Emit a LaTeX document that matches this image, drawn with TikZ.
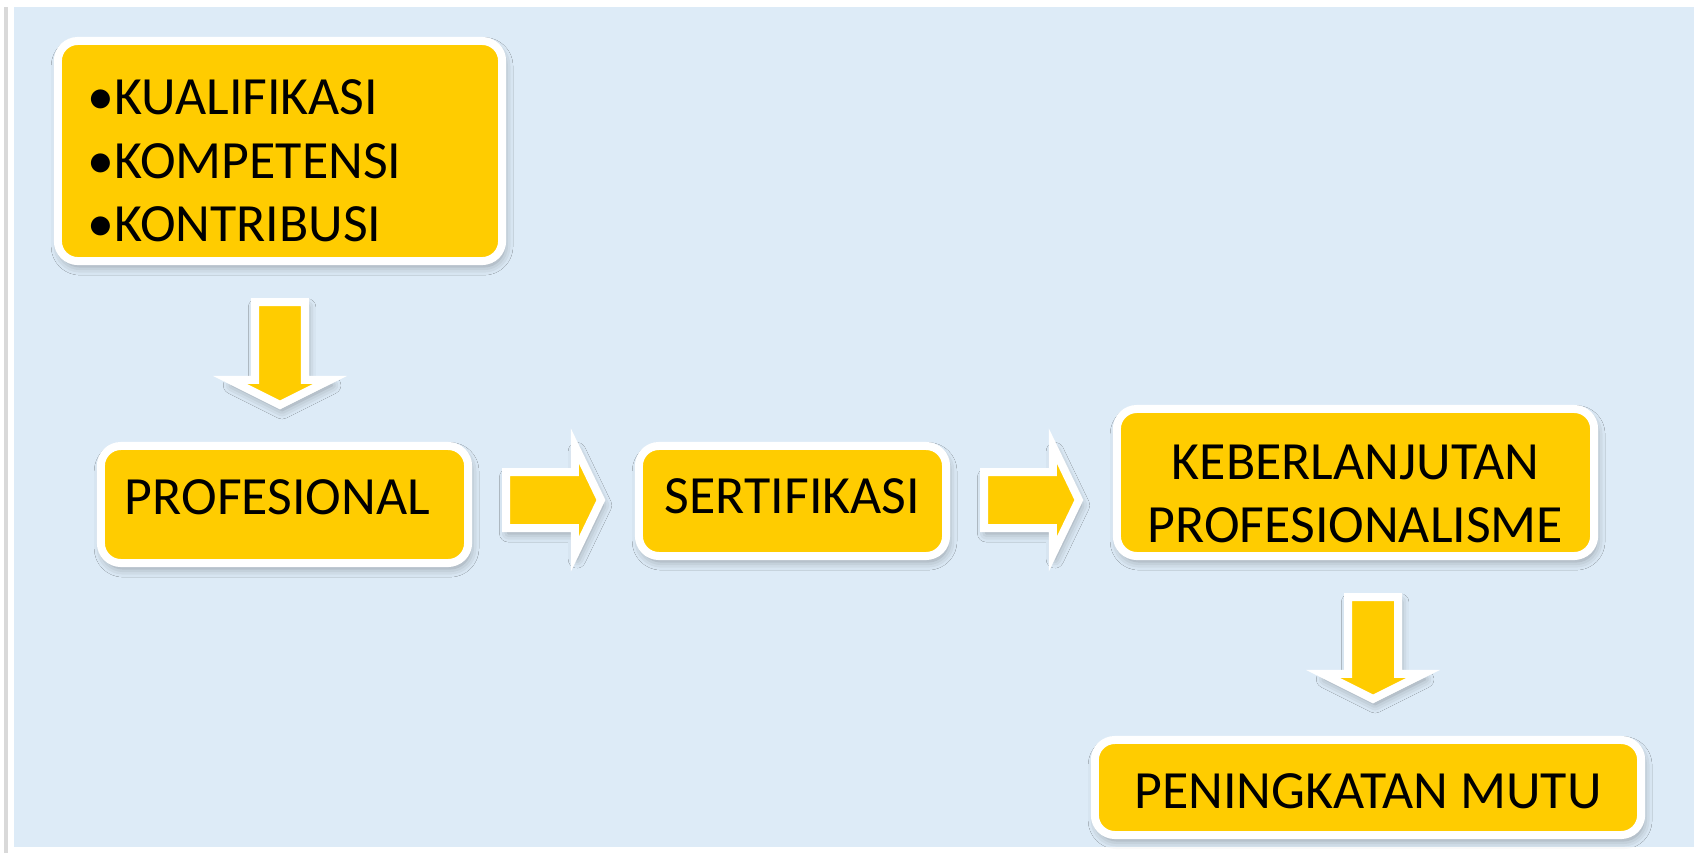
\documentclass[tikz,border=0pt]{standalone}
\usepackage{fontspec}
\setmainfont{Carlito}
\usetikzlibrary{calc,shadows.blur}
\definecolor{bgblue}{HTML}{DDEBF7}
\definecolor{gold}{HTML}{FFCC00}
\tikzset{
  softshadow/.style={blur shadow={shadow xshift=0.6pt,shadow yshift=-1.5pt,
    shadow blur radius=2.5pt,shadow opacity=35}},
  flowbox/.style={rectangle,rounded corners=0.2cm,fill=gold,draw=white,
    line width=0.08cm,softshadow,inner sep=0pt,
    font=\fontsize{15.3pt}{18.1pt}\selectfont},
  fatright/.style={fill=gold,draw=white,line width=0.08cm,line join=miter,softshadow,
    to path={(\tikztostart) ++(0,-28) -- ($(\tikztotarget)+(-26,-28)$)
      -- ($(\tikztotarget)+(-26,-54)$) -- (\tikztotarget)
      -- ($(\tikztotarget)+(-26,54)$) -- ($(\tikztotarget)+(-26,28)$)
      -- ($(\tikztostart)+(0,28)$) -- cycle}},
  fatdown/.style={fill=gold,draw=white,line width=0.08cm,line join=miter,softshadow,
    to path={(\tikztostart) ++(-25,0) -- ($(\tikztotarget)+(-25,-25)$)
      -- ($(\tikztotarget)+(-50,-25)$) -- (\tikztotarget)
      -- ($(\tikztotarget)+(50,-25)$) -- ($(\tikztotarget)+(25,-25)$)
      -- ($(\tikztostart)+(25,0)$) -- cycle}}
}
\begin{document}
\begin{tikzpicture}[x=0.01cm,y=-0.01cm]
\useasboundingbox (0,0) rectangle (1702,854);
\fill[bgblue] (14,7) rectangle (1694,847);
\draw[gray!30,line width=0.03cm] (6,7) -- (6,853);
% boxes
\node[flowbox,minimum width=4.44cm,minimum height=2.2cm,text width=3.84cm,
  inner xsep=0.3cm,align=left,text height=0.55cm] (kual) at (280,151)
  {•KUALIFIKASI\\•KOMPETENSI\\•KONTRIBUSI};
\node[flowbox,minimum width=3.67cm,minimum height=1.17cm,text width=3.19cm,
  inner xsep=0.24cm,align=left,text height=0.34cm,text depth=0.15cm] (prof) at (284.5,504.5)
  {PROFESIONAL};
\node[flowbox,minimum width=3.07cm,minimum height=1.1cm,
  text height=0.34cm,text depth=0.1cm] (sert) at (792.5,501) {SERTIFIKASI};
\node[flowbox,minimum width=4.77cm,minimum height=1.47cm,text width=4.77cm,
  align=center,text height=0.57cm] (keb) at (1355.5,482.5)
  {KEBERLANJUTAN\\PROFESIONALISME};
\node[flowbox,minimum width=5.46cm,minimum height=0.95cm,
  text height=0.41cm,text depth=0cm] (pen) at (1368,787.5) {PENINGKATAN MUTU};
% block arrows
\coordinate (row) at (0,500);
\draw[fatdown] ($(kual.south)+(0,37)$) to ($(kual.south |- prof.north)+(0,-37)$);
\draw[fatright] ($(prof.east |- row)+(34,0)$) to ($(sert.west |- row)+(-34,0)$);
\draw[fatright] ($(sert.east |- row)+(34,0)$) to ($(keb.west |- row)+(-34,0)$);
\draw[fatdown] ($(keb.south -| pen.north)+(5,37)$) to ($(pen.north)+(5,-37)$);
\end{tikzpicture}
\end{document}
